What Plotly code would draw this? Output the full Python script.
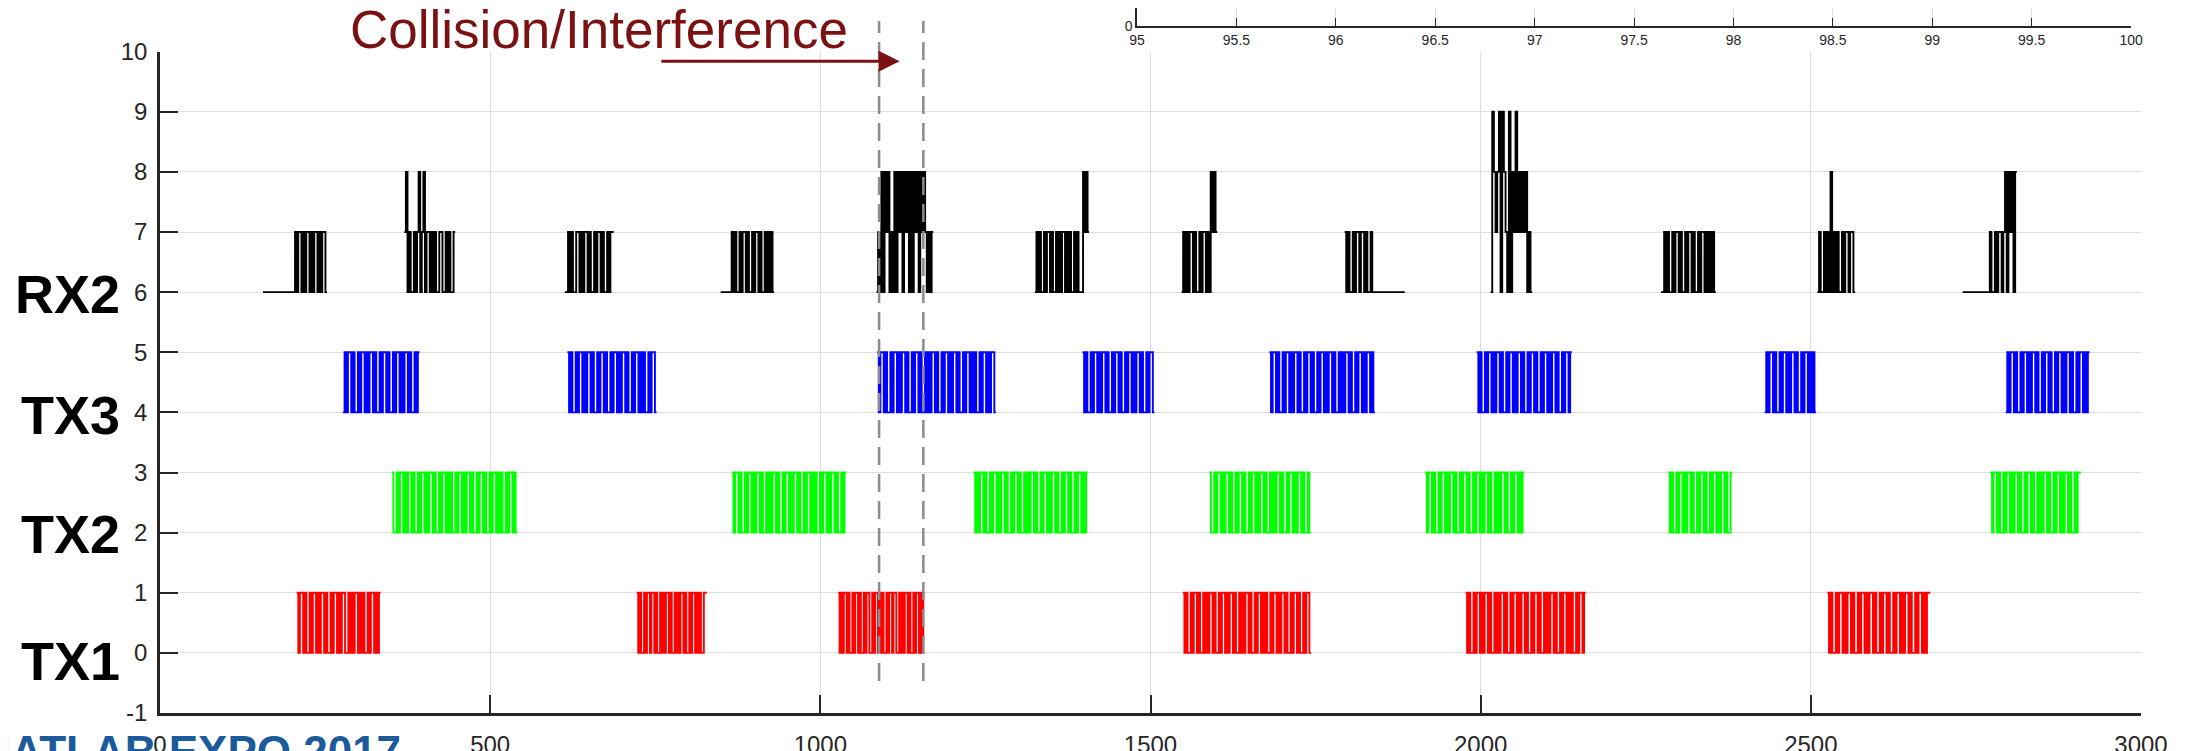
import plotly.graph_objects as go

# ---------------- data ----------------
x_ticks = [0, 500, 1000, 1500, 2000, 2500, 3000]
y_ticks = [-1, 0, 1, 2, 3, 4, 5, 6, 7, 8, 9, 10]
inset_ticks = [95, 95.5, 96, 96.5, 97, 97.5, 98, 98.5, 99, 99.5, 100]
inset_labels = ["95", "95.5", "96", "96.5", "97", "97.5", "98", "98.5", "99", "99.5", "100"]

channel_names = ["RX2", "TX3", "TX2", "TX1"]
channel_label_y = [5.97, 3.95, 1.97, -0.13]

# TX1 (red, levels 0/1)
tx1_start = [207, 722, 1027, 1549, 1977, 2525]
tx1_end = [334, 828, 1158, 1743, 2159, 2681]
tx1_bits = [
    "1011010010110101101001011010110010101101010010110101",
    "101001011011010010101101001010110100101101010011",
    "1010110100101101001011001011010100101101100101011010010110101",
    "1010010110100101011010010110101101001010110100101101010010110101101001011010010110",
    "101001011010110100101011010010110101101001011010010101101001011010100101101",
    "1010010110101101001011010110100101101001011010110100101101011",
]

# TX2 (green, levels 2/3)
tx2_start = [351, 866, 1232, 1589, 1916, 2284, 2772]
tx2_end = [541, 1039, 1405, 1743, 2066, 2381, 2909]
tx2_bits = [
    "10010110101101001011010110100101101010010110101101001011010010110101001011010",
    "1011010010110101101001010110100101101011010010110101001011010110100101",
    "1010110100101101011010010110100101011010010110101101001011010010110101",
    "10010110101101001011010010110101101001010110100101101011010010",
    "101101001011010110100101101001011010110100101011010010110101",
    "1010010110101101001011010010110101101001",
    "10110100101101011010010110100101011010010110101101001011",
]

# TX3 (blue, levels 4/5)
tx3_start = [277, 617, 1086, 1397, 1680, 1994, 2430, 2795]
tx3_end = [393, 752, 1266, 1506, 1840, 2138, 2508, 2922]
tx3_bits = [
    "0101101001011010110100101101001011010110100101",
    "101001011010110100101101001011010110100101101010010110",
    "101101001011010110100101101001010110100101101011010010110101001011010110",
    "10100101101011010010110100101101011010010110",
    "1011010010110101101001011010010110101101001010110100101101011010",
    "1010010110101101001011010110100101101001011010110100101101",
    "0101101001011010110100101101010",
    "010110100101101011010010110100101101011010010110101",
]

# RX2 (black, levels 6..9)
rx2_start = [156, 370, 613, 849, 1085, 1325, 1547, 1794, 2015, 2273, 2510, 2730]
rx2_end = [253, 447, 687, 930, 1171, 1407, 1601, 1885, 2078, 2356, 2567, 2812]
rx2_levels = [
    "6666666666666666666676776767767677676776",
    "78676676786786776767667766767667",
    "667676677676776766767767667677",
    "6666666767667677676676776766767676",
    "67686878676868786878686878687876767",
    "676766767767667676776767667676668787",
    "6767677676676776768787",
    "7676676776776766766666666666666666666",
    "6987896987696879787878676",
    "6676766767767667677676676776767676",
    "67667676867676676776776",
    "66666666666666667667677678687868",
]

collision_x = [1089, 1156]


def burst_xy(starts, ends, patterns, base):
    xs, ys = [], []
    for s, e, p in zip(starts, ends, patterns):
        dt = (e - s) / len(p)
        for i, ch in enumerate(p):
            xs.append(s + i * dt)
            ys.append(base + int(ch))
        xs.append(e)
        ys.append(base + int(p[-1]))
        xs.append(None)
        ys.append(None)
    return xs, ys


fig = go.Figure()

series = [
    ("TX1", tx1_start, tx1_end, tx1_bits, 0, "#ff0000"),
    ("TX2", tx2_start, tx2_end, tx2_bits, 2, "#00ff00"),
    ("TX3", tx3_start, tx3_end, tx3_bits, 4, "#0000ff"),
    ("RX2", rx2_start, rx2_end, rx2_levels, 0, "#000000"),
]
for name, s, e, p, base, col in series:
    xs, ys = burst_xy(s, e, p, base)
    fig.add_trace(go.Scatter(
        x=xs, y=ys, mode="lines", line=dict(color=col, width=1.9, shape="hv"),
        name=name, showlegend=False, connectgaps=False, hoverinfo="skip",
    ))

# invisible trace for inset axes
fig.add_trace(go.Scatter(x=[95, 100], y=[0, 0], mode="lines", line=dict(width=0),
                         xaxis="x2", yaxis="y2", showlegend=False, hoverinfo="skip"))

tick_font = dict(family="Liberation Sans, Arial, sans-serif", size=24, color="#262626")
grid_col = "#dedede"

fig.update_layout(
    width=2187, height=751,
    margin=dict(l=152, r=54, t=0, b=46, autoexpand=False),
    paper_bgcolor="white", plot_bgcolor="white",
    xaxis=dict(
        range=[0, 3000], tickvals=x_ticks, ticktext=[str(v) for v in x_ticks],
        showline=True, linecolor="#262626", linewidth=2.5,
        ticks="inside", ticklen=18, tickwidth=2, tickcolor="#262626",
        showgrid=True, gridcolor=grid_col, gridwidth=1, zeroline=False,
        tickfont=tick_font, ticklabelstandoff=8, domain=[0, 1], automargin=False,
    ),
    yaxis=dict(
        range=[-1, 10], tickvals=y_ticks, ticktext=[str(v) for v in y_ticks],
        showline=True, linecolor="#262626", linewidth=2.5,
        ticks="inside", ticklen=18, tickwidth=2, tickcolor="#262626",
        showgrid=True, gridcolor=grid_col, gridwidth=1, zeroline=False,
        tickfont=tick_font, ticklabelstandoff=5, domain=[0, 0.9381], automargin=False,
    ),
    xaxis2=dict(
        range=[95, 100], tickvals=inset_ticks, ticktext=inset_labels,
        anchor="y2", domain=[0.4932, 0.995],
        showline=True, linecolor="#262626", linewidth=1.5,
        ticks="inside", ticklen=9, tickwidth=1.2, tickcolor="#262626",
        showgrid=True, gridcolor=grid_col, gridwidth=1, zeroline=False,
        tickfont=dict(family="Liberation Sans, Arial, sans-serif", size=14, color="#262626"),
        automargin=False,
    ),
    yaxis2=dict(
        range=[0, 1], tickvals=[0], ticktext=["0"], anchor="x2",
        domain=[0.9738, 1.0], showline=True, linecolor="#262626", linewidth=1.5,
        ticks="", showgrid=False, zeroline=False, automargin=False,
        tickfont=dict(family="Liberation Sans, Arial, sans-serif", size=14, color="#262626"),
    ),
)

# dashed collision lines
for cx in collision_x:
    fig.add_shape(type="line", xref="x", yref="paper", x0=cx, x1=cx, y0=0.0454, y1=0.9816,
                  line=dict(color="#8c8c8c", width=2.5, dash="18px,9px"))

annotations = []
for name, yv in zip(channel_names, channel_label_y):
    annotations.append(dict(
        text="<b>%s</b>" % name, xref="paper", yref="y", x=-0.019, y=yv,
        xanchor="right", yanchor="middle", showarrow=False,
        font=dict(family="Liberation Sans, Arial, sans-serif", size=54, color="#000000"),
    ))

annotations.append(dict(
    text="Collision/Interference", xref="paper", yref="paper", x=0.2216, y=0.9702,
    xanchor="center", yanchor="middle", showarrow=False,
    font=dict(family="Liberation Sans, Arial, sans-serif", size=53, color="#7b1113"),
))
annotations.append(dict(
    text="", xref="x", yref="y", x=1120, y=9.84, axref="x", ayref="y", ax=757, ay=9.84,
    showarrow=True, arrowhead=2, arrowsize=1.4, arrowwidth=3, arrowcolor="#7b1113",
))
annotations.append(dict(
    text="<b>MATLAB EXPO 2017</b>", xref="paper", yref="paper", x=-0.095, y=-0.0166,
    xanchor="left", yanchor="top", showarrow=False,
    font=dict(family="Liberation Sans, Arial, sans-serif", size=44, color="#1b5b9c"),
))
fig.update_layout(annotations=annotations)

fig.write_html("out.html")
